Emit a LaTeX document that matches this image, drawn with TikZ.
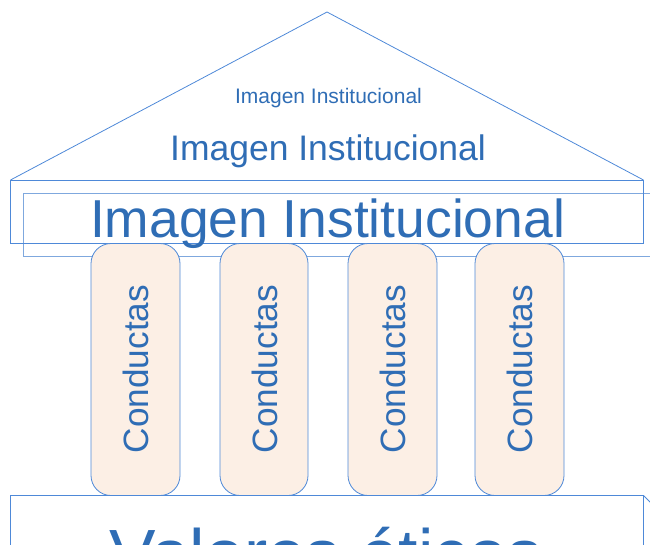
\documentclass[tikz,border=0pt]{standalone}
\usepackage{fontspec}
\setmainfont{Liberation Sans}
\definecolor{txtblue}{HTML}{2F6DB5}
\definecolor{edgeblue}{HTML}{4E89D8}
\definecolor{paleblue}{HTML}{7FA8DE}
\definecolor{pillarfill}{HTML}{FCEFE5}
\tikzset{
  roofline/.style={draw=edgeblue, line width=0.8pt},
  beam/.style={draw=edgeblue, line width=1pt},
  beamshadow/.style={draw=paleblue, line width=1pt},
  pillar/.style={draw=edgeblue, fill=pillarfill, line width=0.8pt,
    rounded corners=20pt},
  label/.style={text=txtblue, inner sep=0pt, anchor=base},
}
\newcommand{\fs}[1]{\fontsize{#1}{#1}\selectfont}
\begin{document}
\begin{tikzpicture}[x=1pt,y=-1pt]
  \useasboundingbox (0,0) rectangle (650,544);
  \clip (0,0) rectangle (650,544);
  % roof
  \coordinate (apex) at (327,12);
  \coordinate (eaveL) at (10.5,180);
  \coordinate (eaveR) at (643.5,180);
  \draw[roofline] (eaveL) -- (apex) -- (eaveR);
  % architrave beams
  \draw[beamshadow] (23.5,193) rectangle (660,256);
  \draw[beam] (10.5,180) rectangle (643.5,243);
  % roof texts
  \node[label, font=\fs{21}] (t1) at (328.5,103) {Imagen Institucional};
  \node[label, font=\fs{35.5}] (t2) at (328,160) {Imagen Institucional};
  \node[label, font=\fs{53.4}] (t3) at (327.5,237) {Imagen Institucional};
  % pillars
  \foreach \xa/\xb [count=\i] in {91/180, 220/308, 348/437, 475/564}{
    \draw[pillar] (\xa,243.5) rectangle (\xb,495.5);
    \node[text=txtblue, inner sep=0pt, rotate=90, font=\fs{35.2}]
      (c\i) at ({(\xa+\xb)/2+0.5},369) {Conductas};
  }
  % base
  \draw[beam] (10.5,495.5) rectangle (643.5,600);
  \draw[roofline] (643.5,495.5) -- (660,512);
  \node[label, font=\fs{69.7}] (v) at (326,578) {Valores éticos};
\end{tikzpicture}
\end{document}
